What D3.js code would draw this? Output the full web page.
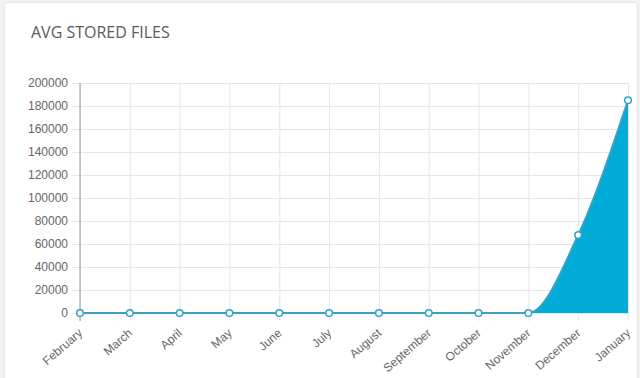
<!DOCTYPE html>
<html>
<head>
<meta charset="utf-8">
<script src="https://cdn.jsdelivr.net/npm/d3@7"></script>
<style>
  html, body { margin: 0; padding: 0; background: #f3f3f3; }
  #card {
    position: absolute; left: 5px; top: 3px; width: 632px; height: 380px;
    background: #fff; border-radius: 3px;
    box-shadow: 0 0 3px rgba(0,0,0,0.12);
  }
  #chart { position: absolute; left: 0; top: 0; }
  .title { font-family: "Open Sans", sans-serif; font-size: 16px; fill: #5a5a5a; }
  .tick text { font-family: "Liberation Sans", Arial, sans-serif; font-size: 12px; fill: #666; }
</style>
</head>
<body>
<div id="card"></div>
<svg id="chart" width="640" height="378"></svg>
<script>
const months = ["February", "March", "April", "May", "June", "July", "August",
                "September", "October", "November", "December", "January"];
const storedFiles = [0, 0, 0, 0, 0, 0, 0, 0, 0, 0, 67800, 185000];
const yTicks = [0, 20000, 40000, 60000, 80000, 100000, 120000, 140000, 160000, 180000, 200000];

const margin = {top: 83, right: 12, bottom: 65, left: 80};
const svgWidth = 640, svgHeight = 378;
const width = svgWidth - margin.left - margin.right;
const height = svgHeight - margin.top - margin.bottom;

const svg = d3.select("#chart");

svg.append("text")
    .attr("class", "title")
    .attr("x", 31)
    .attr("y", 38)
    .text("AVG STORED FILES");

const plotArea = svg.append("g")
    .attr("transform", `translate(${margin.left},${margin.top})`);

const x = d3.scalePoint()
    .domain(months)
    .range([0, width]);

const y = d3.scaleLinear()
    .domain([0, 200000])
    .range([height, 0]);

// grid
plotArea.append("g")
    .attr("class", "y-grid")
    .call(d3.axisLeft(y).tickValues(yTicks).tickSize(-width - 8).tickFormat(""))
    .attr("transform", "translate(-8,0)")
    .call(g => g.select(".domain").remove())
    .call(g => g.selectAll("line").attr("stroke", "#e6e6e6"));

plotArea.append("g")
    .attr("class", "x-grid")
    .attr("transform", `translate(0,${height + 8})`)
    .call(d3.axisTop(x).tickSize(height + 8).tickFormat(""))
    .call(g => g.select(".domain").remove())
    .call(g => g.selectAll("line").attr("stroke", "#e6e6e6"));

// area + line
const area = d3.area()
    .x((d, i) => x(months[i]))
    .y0(y(0))
    .y1(d => y(d))
    .curve(d3.curveMonotoneX);

const line = d3.line()
    .x((d, i) => x(months[i]))
    .y(d => y(d))
    .curve(d3.curveMonotoneX);

plotArea.append("path")
    .datum(storedFiles)
    .attr("d", area)
    .attr("fill", "#00acd7");

plotArea.append("path")
    .datum(storedFiles)
    .attr("d", line)
    .attr("fill", "none")
    .attr("stroke", "#3f9fc0")
    .attr("stroke-width", 2);

// axes
plotArea.append("g")
    .attr("class", "y-axis")
    .call(d3.axisLeft(y).tickValues(yTicks).tickSize(8).tickPadding(4).tickFormat(d3.format("d")))
    .call(g => g.select(".domain").remove())
    .call(g => g.selectAll("line").attr("stroke", "#e6e6e6"));

plotArea.append("line")
    .attr("x1", 0).attr("x2", 0)
    .attr("y1", 0).attr("y2", height + 8)
    .attr("stroke", "#999");

plotArea.append("g")
    .attr("class", "x-axis")
    .attr("transform", `translate(0,${height})`)
    .call(d3.axisBottom(x).tickSize(0).tickPadding(0))
    .call(g => g.select(".domain").remove())
    .selectAll("text")
        .attr("text-anchor", "end")
        .attr("dy", "0.35em")
        .attr("transform", "translate(0,18) rotate(-41)");

// points
plotArea.selectAll(".point")
    .data(storedFiles)
    .enter()
    .append("circle")
    .attr("class", "point")
    .attr("cx", (d, i) => x(months[i]))
    .attr("cy", d => y(d))
    .attr("r", 3.3)
    .attr("fill", "#fff")
    .attr("stroke", "#2fa3c6")
    .attr("stroke-width", 1.5);
</script>
</body>
</html>
